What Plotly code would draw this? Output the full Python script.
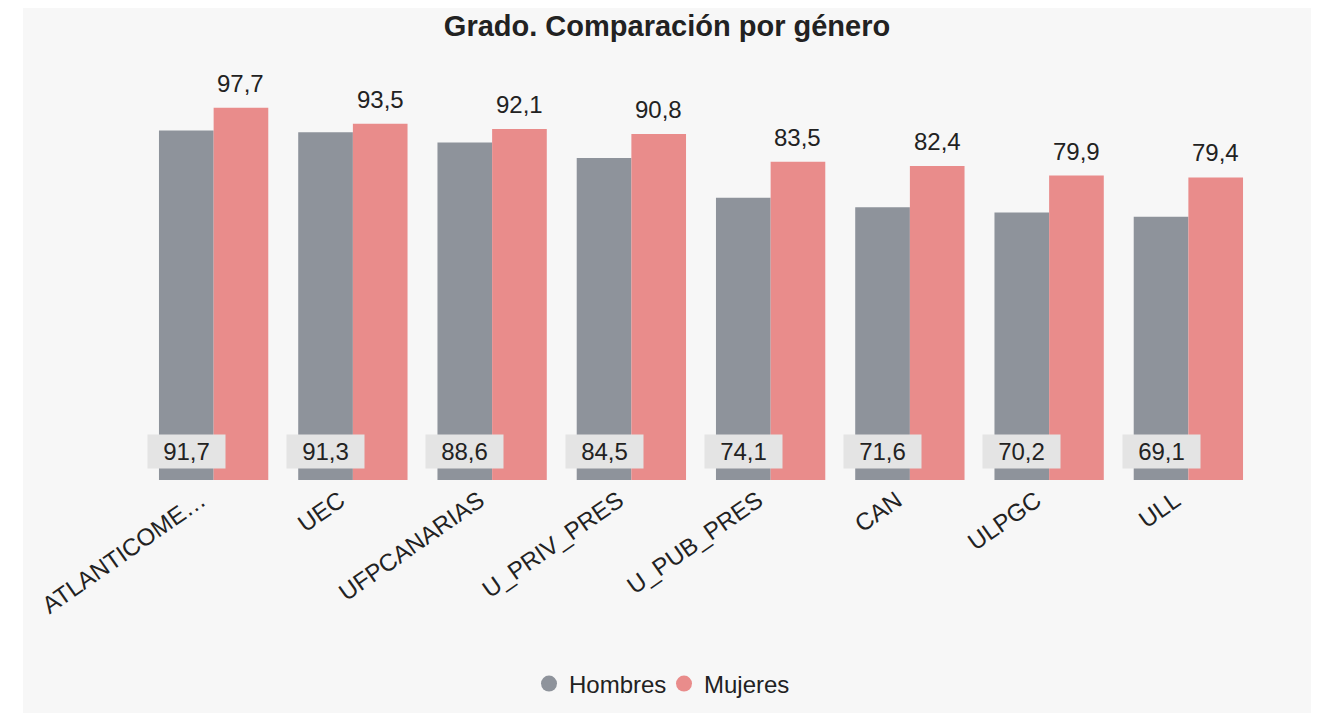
import plotly.graph_objects as go

categories = ["ATLANTICOME…", "UEC", "UFPCANARIAS", "U_PRIV_PRES", "U_PUB_PRES", "CAN", "ULPGC", "ULL"]
hombres = [91.7, 91.3, 88.6, 84.5, 74.1, 71.6, 70.2, 69.1]
mujeres = [97.7, 93.5, 92.1, 90.8, 83.5, 82.4, 79.9, 79.4]
series_names = ["Hombres", "Mujeres"]
colors = ["#8e939b", "#e98c8b"]
title_text = "Grado. Comparación por género"

# page body adds an 8px offset; figure coordinates are screen coords minus 8
OFF = 8
W, H = 1319 - OFF, 713 - OFF
L, T = 144 - OFF, 99 - OFF
R = W - (1258 - OFF)
B = H - (480 - OFF)
pw, ph = W - L - R, H - T - B
FONT = "Liberation Sans, Arial, sans-serif"
FS = 24

def fmt(v):
    return f"{v:.1f}".replace(".", ",")

xs = list(range(len(categories)))
bargap = 0.215
off = (1 - bargap) / 4

fig = go.Figure()
for name, vals, col in zip(series_names, [hombres, mujeres], colors):
    fig.add_trace(go.Bar(x=xs, y=vals, name=name, marker=dict(color=col, line=dict(width=0)),
                         showlegend=False, hoverinfo="skip"))
    fig.add_trace(go.Scatter(x=[None], y=[None], mode="markers", name=name,
                             marker=dict(symbol="circle", size=21, color=col)))

annotations = []
for i, (h, m) in enumerate(zip(hombres, mujeres)):
    annotations.append(dict(x=i - off, y=0, xref="x", yref="y", text=fmt(h), showarrow=False,
                            yanchor="bottom", yshift=11, bgcolor="#e4e4e4", width=71, borderpad=3,
                            font=dict(family=FONT, size=FS, color="#222")))
    annotations.append(dict(x=i + off, y=m, xref="x", yref="y", text=fmt(m), showarrow=False,
                            yanchor="bottom", yshift=9,
                            font=dict(family=FONT, size=FS, color="#222")))

def px2x(px):
    return (px - OFF - L) / pw

def py2y(py):
    return (H - B - (py - OFF)) / ph

shapes = [dict(type="rect", xref="paper", yref="paper", x0=px2x(23), x1=px2x(1312),
               y0=py2y(720), y1=py2y(8), fillcolor="#f7f7f7", line=dict(width=0), layer="below")]

fig.update_layout(
    width=W, height=H,
    margin=dict(l=L, r=R, t=T, b=B, autoexpand=False),
    paper_bgcolor="white", plot_bgcolor="rgba(0,0,0,0)",
    barmode="group", bargap=bargap, bargroupgap=0,
    title=dict(text=f"<b>{title_text}</b>", x=(667 - OFF) / W, xref="container", xanchor="center",
               y=1 - (26 - OFF) / H, yref="container", yanchor="middle",
               font=dict(family=FONT, size=29, color="#222")),
    xaxis=dict(tickmode="array", tickvals=xs, ticktext=categories, tickangle=-35,
               tickfont=dict(family=FONT, size=FS, color="#222"), showgrid=False, zeroline=False,
               showline=False, ticks="", ticklabelshift=-13, ticklabelstandoff=1, automargin=False,
               range=[-0.5, len(categories) - 0.5]),
    yaxis=dict(range=[0, 100], visible=False, showgrid=False, zeroline=False, automargin=False),
    legend=dict(orientation="h", x=px2x(664), xanchor="center", y=py2y(684), yanchor="middle",
                font=dict(family=FONT, size=FS, color="#222"), itemwidth=30, tracegroupgap=0,
                entrywidth=90, entrywidthmode="pixels", bgcolor="rgba(0,0,0,0)"),
    annotations=annotations,
    shapes=shapes,
)

fig.write_html("out.html")
